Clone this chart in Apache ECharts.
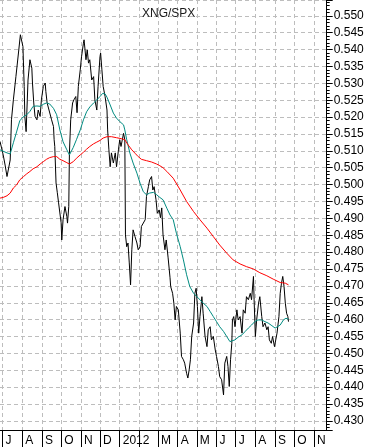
<!DOCTYPE html>
<html><head><meta charset="utf-8">
<script src="https://cdn.jsdelivr.net/npm/echarts@6/dist/echarts.min.js"></script>
<style>html,body{margin:0;padding:0;background:#fff}#c{width:371px;height:447px}</style>
</head><body><div id="c"></div>
<script>
const chartTitle = 'XNG/SPX';
const monthLetters = ['J','F','M','A','M','J','J','A','S','O','N','D'];
const yearLabel = '2012';
const axisStart = '2011-06-27';
const axisEnd = '2012-11-21';
const yMin = 0.4273, yMax = 0.5547, yStep = 0.005;

const priceDates = ['2011-06-27','2011-07-02','2011-07-05','2011-07-08','2011-07-13','2011-07-15','2011-07-18','2011-07-22','2011-07-26','2011-07-29',
'2011-08-02','2011-08-04','2011-08-05','2011-08-07','2011-08-10','2011-08-13','2011-08-16','2011-08-17','2011-08-19','2011-08-21',
'2011-08-24','2011-08-26','2011-08-29','2011-08-31','2011-09-03','2011-09-06','2011-09-07','2011-09-09','2011-09-12','2011-09-16',
'2011-09-19','2011-09-20','2011-09-21','2011-09-23','2011-09-25','2011-09-27','2011-09-29','2011-10-01','2011-10-02','2011-10-04',
'2011-10-07','2011-10-10','2011-10-11','2011-10-13','2011-10-14','2011-10-16','2011-10-19','2011-10-21','2011-10-24','2011-10-26',
'2011-10-28','2011-10-31','2011-11-02','2011-11-05','2011-11-06','2011-11-09','2011-11-11','2011-11-13','2011-11-15','2011-11-18',
'2011-11-21','2011-11-23','2011-11-26','2011-11-28','2011-12-01','2011-12-02','2011-12-04','2011-12-06','2011-12-09','2011-12-12',
'2011-12-13','2011-12-15','2011-12-17','2011-12-19','2011-12-22','2011-12-25','2011-12-27','2011-12-30','2012-01-01','2012-01-03',
'2012-01-07','2012-01-09','2012-01-10','2012-01-12','2012-01-14','2012-01-16','2012-01-18','2012-01-20','2012-01-22','2012-01-25',
'2012-01-28','2012-01-30','2012-02-02','2012-02-04','2012-02-07','2012-02-10','2012-02-12','2012-02-15','2012-02-17','2012-02-20',
'2012-02-22','2012-02-24','2012-02-27','2012-02-29','2012-03-03','2012-03-05','2012-03-07','2012-03-09','2012-03-12','2012-03-14',
'2012-03-17','2012-03-20','2012-03-21','2012-03-24','2012-03-26','2012-03-28','2012-03-30','2012-04-02','2012-04-05','2012-04-07',
'2012-04-10','2012-04-12','2012-04-15','2012-04-17','2012-04-19','2012-04-21','2012-04-23','2012-04-26','2012-04-28','2012-04-30',
'2012-05-02','2012-05-04','2012-05-06','2012-05-09','2012-05-11','2012-05-14','2012-05-17','2012-05-19','2012-05-22','2012-05-24',
'2012-05-27','2012-05-30','2012-06-01','2012-06-04','2012-06-06','2012-06-09','2012-06-12','2012-06-14','2012-06-17','2012-06-19',
'2012-06-21','2012-06-23','2012-06-25','2012-06-26','2012-06-28','2012-06-30','2012-07-03','2012-07-05','2012-07-08','2012-07-11',
'2012-07-13','2012-07-16','2012-07-18','2012-07-21','2012-07-24','2012-07-26','2012-07-29','2012-07-30','2012-08-01','2012-08-03',
'2012-08-06','2012-08-08','2012-08-11','2012-08-13','2012-08-16','2012-08-19','2012-08-21','2012-08-23','2012-08-26','2012-08-28',
'2012-08-31','2012-09-02','2012-09-04','2012-09-07','2012-09-09','2012-09-11','2012-09-13','2012-09-15','2012-09-17','2012-09-19',
'2012-09-21','2012-09-22'];
const priceValues = [0.5128,0.5088,0.5058,0.5024,0.5073,0.5192,0.5251,0.5320,0.5390,0.5444,
0.5409,0.5291,0.5202,0.5157,0.5310,0.5370,0.5345,0.5301,0.5242,0.5202,
0.5192,0.5221,0.5202,0.5251,0.5291,0.5301,0.5276,0.5242,0.5245,0.5192,
0.5172,0.5133,0.5113,0.5005,0.4976,0.4946,0.4916,0.4887,0.4836,0.4896,
0.4935,0.4905,0.4886,0.4935,0.5093,0.5192,0.5242,0.5251,0.5261,0.5213,
0.5291,0.5340,0.5379,0.5419,0.5429,0.5370,0.5399,0.5360,0.5370,0.5310,
0.5320,0.5251,0.5221,0.5291,0.5379,0.5390,0.5340,0.5291,0.5261,0.5221,
0.5162,0.5103,0.5053,0.5094,0.5064,0.5094,0.5053,0.5103,0.5133,0.5113,
0.5152,0.5133,0.4851,0.4816,0.4827,0.4768,0.4703,0.4807,0.4866,0.4846,
0.4827,0.4807,0.4816,0.4876,0.4881,0.4896,0.4965,0.4994,0.5014,0.5024,
0.4984,0.4994,0.4955,0.4915,0.4925,0.4902,0.4931,0.4851,0.4807,0.4836,
0.4783,0.4724,0.4698,0.4678,0.4649,0.4599,0.4639,0.4629,0.4560,0.4491,
0.4481,0.4471,0.4441,0.4427,0.4451,0.4481,0.4550,0.4590,0.4678,0.4693,
0.4639,0.4560,0.4609,0.4668,0.4619,0.4550,0.4520,0.4570,0.4579,0.4540,
0.4550,0.4510,0.4491,0.4461,0.4431,0.4422,0.4377,0.4471,0.4491,0.4461,
0.4402,0.4481,0.4530,0.4599,0.4609,0.4579,0.4629,0.4599,0.4609,0.4560,
0.4629,0.4619,0.4668,0.4659,0.4678,0.4659,0.4728,0.4659,0.4550,0.4599,
0.4649,0.4668,0.4609,0.4579,0.4590,0.4570,0.4579,0.4540,0.4530,0.4550,
0.4520,0.4540,0.4560,0.4609,0.4678,0.4708,0.4728,0.4698,0.4649,0.4619,
0.4609,0.4594];

const maShortDates = ['2011-06-27','2011-07-08','2011-07-13','2011-07-18','2011-07-23','2011-07-28','2011-08-03','2011-08-08','2011-08-13','2011-08-18',
'2011-08-24','2011-08-29','2011-09-03','2011-09-08','2011-09-13','2011-09-19','2011-09-24','2011-09-29','2011-10-04','2011-10-10',
'2011-10-14','2011-10-20','2011-10-25','2011-10-31','2011-11-05','2011-11-10','2011-11-15','2011-11-21','2011-11-26','2011-12-01',
'2011-12-05','2011-12-09','2011-12-12','2011-12-17','2011-12-22','2011-12-27','2012-01-01','2012-01-07','2012-01-09','2012-01-12',
'2012-01-17','2012-01-22','2012-01-28','2012-02-02','2012-02-07','2012-02-12','2012-02-17','2012-02-23','2012-02-28','2012-03-04',
'2012-03-09','2012-03-15','2012-03-20','2012-03-25','2012-03-30','2012-04-05','2012-04-10','2012-04-15','2012-04-20','2012-04-26',
'2012-05-01','2012-05-06','2012-05-11','2012-05-17','2012-05-22','2012-05-27','2012-06-01','2012-06-06','2012-06-12','2012-06-17',
'2012-06-22','2012-06-25','2012-06-30','2012-07-05','2012-07-11','2012-07-16','2012-07-21','2012-07-26','2012-07-31','2012-08-05',
'2012-08-11','2012-08-16','2012-08-21','2012-08-27','2012-09-01','2012-09-04','2012-09-09','2012-09-14','2012-09-18','2012-09-22'];
const maShortValues = [0.5103,0.5094,0.5091,0.5124,0.5156,0.5189,0.5202,0.5207,0.5217,0.5232,
0.5233,0.5232,0.5238,0.5242,0.5239,0.5226,0.5207,0.5162,0.5127,0.5103,
0.5088,0.5110,0.5133,0.5162,0.5192,0.5216,0.5230,0.5242,0.5251,0.5261,
0.5270,0.5269,0.5259,0.5236,0.5212,0.5197,0.5187,0.5177,0.5162,0.5133,
0.5093,0.5064,0.5034,0.5004,0.4979,0.4970,0.4975,0.4977,0.4970,0.4962,
0.4955,0.4930,0.4910,0.4896,0.4856,0.4816,0.4777,0.4733,0.4698,0.4678,
0.4668,0.4659,0.4649,0.4639,0.4624,0.4609,0.4594,0.4579,0.4565,0.4550,
0.4535,0.4530,0.4540,0.4548,0.4555,0.4565,0.4575,0.4584,0.4594,0.4599,
0.4599,0.4594,0.4590,0.4582,0.4575,0.4572,0.4584,0.4599,0.4604,0.4601];

const maLongDates = ['2011-06-27','2011-07-02','2011-07-08','2011-07-13','2011-07-18','2011-07-23','2011-07-28','2011-08-03','2011-08-08','2011-08-13',
'2011-08-18','2011-08-24','2011-08-29','2011-09-03','2011-09-08','2011-09-13','2011-09-19','2011-09-21','2011-09-24','2011-09-29',
'2011-10-04','2011-10-10','2011-10-14','2011-10-20','2011-10-25','2011-10-31','2011-11-05','2011-11-10','2011-11-15','2011-11-21',
'2011-11-26','2011-12-01','2011-12-06','2011-12-12','2011-12-14','2011-12-19','2011-12-27','2012-01-04','2012-01-09','2012-01-14',
'2012-01-20','2012-01-25','2012-01-30','2012-02-04','2012-02-12','2012-02-20','2012-02-28','2012-03-04','2012-03-09','2012-03-15',
'2012-03-25','2012-04-05','2012-04-15','2012-04-26','2012-05-06','2012-05-17','2012-05-27','2012-06-06','2012-06-17','2012-06-27',
'2012-07-08','2012-07-18','2012-07-29','2012-08-08','2012-08-19','2012-08-29','2012-09-09','2012-09-17','2012-09-22'];
const maLongValues = [0.4960,0.4962,0.4967,0.4975,0.4990,0.4999,0.5014,0.5024,0.5032,0.5039,
0.5047,0.5053,0.5061,0.5068,0.5075,0.5080,0.5083,0.5085,0.5083,0.5075,
0.5071,0.5065,0.5061,0.5068,0.5078,0.5088,0.5096,0.5105,0.5113,0.5121,
0.5126,0.5131,0.5138,0.5142,0.5144,0.5142,0.5139,0.5136,0.5133,0.5118,
0.5103,0.5093,0.5083,0.5075,0.5071,0.5067,0.5061,0.5056,0.5050,0.5039,
0.5019,0.4984,0.4950,0.4920,0.4896,0.4871,0.4846,0.4821,0.4797,0.4777,
0.4765,0.4757,0.4750,0.4739,0.4730,0.4720,0.4710,0.4708,0.4703];

function buildDays(start, end) {
  const out = [];
  let t = Date.parse(start + 'T00:00:00Z');
  const e = Date.parse(end + 'T00:00:00Z');
  while (t <= e) { out.push(new Date(t).toISOString().slice(0, 10)); t += 86400000; }
  return out;
}
const days = buildDays(axisStart, axisEnd);
function align(dates, vals) {
  const m = {};
  dates.forEach((d, i) => { m[d] = vals[i]; });
  return days.map(d => (d in m ? m[d] : null));
}
const isMonthStart = (idx, v) => v.slice(8) === '01';
const font = '"Liberation Sans", Arial, sans-serif';

const chart = echarts.init(document.getElementById('c'), null, {renderer: 'canvas'});
chart.setOption({
  animation: false,
  backgroundColor: '#ffffff',
  title: {
    text: chartTitle, left: 137, top: 3,
    textStyle: {fontSize: 12, fontWeight: 'normal', color: '#1a1a1a', fontFamily: font}
  },
  grid: {left: 0, right: 44.3, top: 0, bottom: 17, containLabel: false, outerBoundsMode: 'none'},
  xAxis: {
    type: 'category', data: days, boundaryGap: false,
    axisLine: {show: true, lineStyle: {color: '#000', width: 1}},
    axisTick: {show: true, inside: false, length: 17, interval: isMonthStart, lineStyle: {color: '#000', width: 1}},
    axisLabel: {
      show: true, interval: (idx, v) => v.slice(8) === '01' && v.slice(5, 7) !== '02',
      formatter: v => { const m = +v.slice(5, 7); return m === 1 ? yearLabel : monthLetters[m - 1]; },
      align: 'left', padding: [0, 0, 0, 3], margin: 11, verticalAlign: 'middle',
      color: '#000', fontSize: 12, fontFamily: font
    },
    splitLine: {show: true, interval: isMonthStart, lineStyle: {color: '#bdbdbd', type: [4, 3], width: 1}}
  },
  yAxis: {
    type: 'value', position: 'right', min: yMin, max: yMax,
    splitNumber: 25, minInterval: yStep, maxInterval: yStep,
    axisLine: {show: true, lineStyle: {color: '#000', width: 1}},
    axisTick: {show: true, length: 6, lineStyle: {color: '#000'}},
    minorTick: {show: true, splitNumber: 5, length: 3, lineStyle: {color: '#000'}},
    axisLabel: {
      margin: 7, color: '#000', fontSize: 12, fontFamily: font,
      showMinLabel: false, showMaxLabel: false,
      formatter: v => v.toFixed(3)
    },
    splitLine: {show: true, lineStyle: {color: '#bdbdbd', type: [4, 3], width: 1}}
  },
  series: [
    {type: 'line', data: align(priceDates, priceValues), connectNulls: true, showSymbol: false, symbol: 'none',
     lineStyle: {color: '#000', width: 1}, itemStyle: {color: '#000'}},
    {type: 'line', data: align(maShortDates, maShortValues), connectNulls: true, showSymbol: false, symbol: 'none',
     lineStyle: {color: '#008b80', width: 1}, itemStyle: {color: '#008b80'}},
    {type: 'line', data: align(maLongDates, maLongValues), connectNulls: true, showSymbol: false, symbol: 'none',
     lineStyle: {color: '#ff0000', width: 1}, itemStyle: {color: '#ff0000'}}
  ]
});
</script>
</body></html>
